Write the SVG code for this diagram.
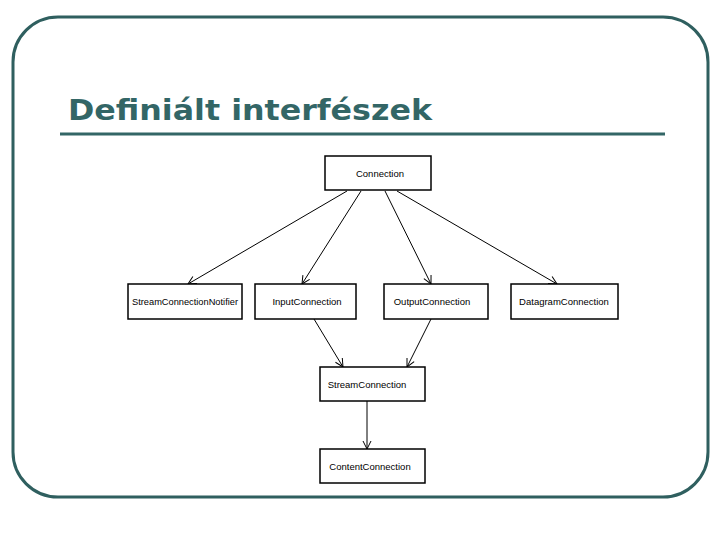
<svg xmlns="http://www.w3.org/2000/svg" width="720" height="540" viewBox="0 0 720 540">
<style>
.n rect{fill:#fff;stroke:#000;stroke-width:1.5}
.n text{font-family:"Liberation Sans",Arial,sans-serif;font-size:9.5px;fill:#000;text-anchor:middle}
#edges line{stroke:#000;stroke-width:1}
</style>
<defs><marker id="a" markerWidth="10" markerHeight="10" refX="9" refY="5" orient="auto" markerUnits="userSpaceOnUse"><path d="M1,1 L9,5 L1,9" fill="none" stroke="#000" stroke-width="1"/></marker></defs>
<rect width="720" height="540" fill="#fff"/>
<rect x="13" y="17" width="695" height="480" rx="45" fill="none" stroke="#2f5f5f" stroke-width="3"/>
<text x="68" y="120" font-family="DejaVu Sans,Verdana,sans-serif" font-weight="bold" font-size="29" fill="#336666" textLength="364" lengthAdjust="spacingAndGlyphs">Definiált interfészek</text>
<line x1="60" y1="134" x2="665" y2="134" stroke="#336666" stroke-width="3"/>
<g id="edges">
<line x1="347" y1="191" x2="188" y2="284" marker-end="url(#a)"/>
<line x1="361" y1="191" x2="302" y2="284" marker-end="url(#a)"/>
<line x1="385" y1="191" x2="431" y2="284" marker-end="url(#a)"/>
<line x1="397" y1="191" x2="557" y2="284" marker-end="url(#a)"/>
<line x1="314" y1="319" x2="343" y2="367" marker-end="url(#a)"/>
<line x1="431" y1="319" x2="407" y2="367" marker-end="url(#a)"/>
<line x1="367" y1="401" x2="367" y2="449" marker-end="url(#a)"/>
</g>
<g id="connection" class="n"><rect x="325" y="156" width="106" height="34"/><text x="380" y="177">Connection</text></g>
<g id="scn" class="n"><rect x="128" y="284" width="114" height="35"/><text x="185" y="305" textLength="106" lengthAdjust="spacingAndGlyphs">StreamConnectionNotifier</text></g>
<g id="input" class="n"><rect x="255" y="284" width="101" height="35"/><text x="307" y="305">InputConnection</text></g>
<g id="output" class="n"><rect x="384" y="284" width="104" height="35"/><text x="432" y="305">OutputConnection</text></g>
<g id="datagram" class="n"><rect x="511" y="284" width="107" height="35"/><text x="564" y="305">DatagramConnection</text></g>
<g id="stream" class="n"><rect x="320" y="367" width="105" height="34"/><text x="367" y="388">StreamConnection</text></g>
<g id="content" class="n"><rect x="320" y="449" width="105" height="34"/><text x="370" y="470">ContentConnection</text></g>
</svg>
